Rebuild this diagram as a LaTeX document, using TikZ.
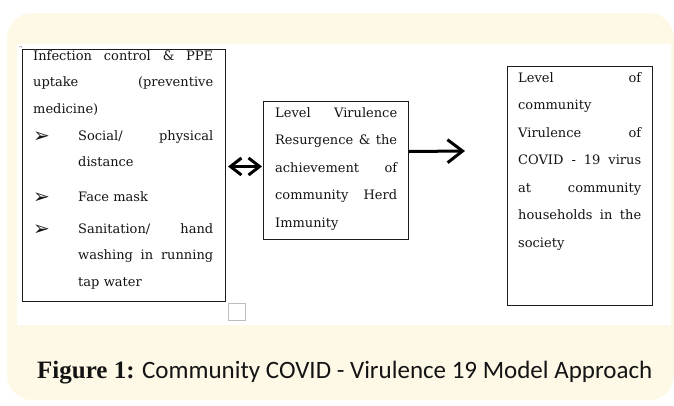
\documentclass[tikz,border=0pt]{standalone}
\usepackage{fontspec}
\setmainfont{DejaVu Serif}
\setsansfont{Carlito}
\newfontfamily\capfont{Liberation Serif}
\newfontfamily\bulletfont{DejaVu Sans}
\usepackage{xcolor}
\definecolor{panelbg}{HTML}{FEF9E7}
\definecolor{boxline}{HTML}{1C1C1C}
\definecolor{tickgray}{HTML}{BDBDBD}
\usepackage{tikz}
\usetikzlibrary{arrows.meta,positioning}
\newcommand{\bul}{\makebox[45pt][l]{\raisebox{-2pt}{\bulletfont\fontsize{20}{20}\selectfont ➢}}}
\newcommand{\ind}{\hspace*{45pt}}

\begin{document}
\begin{tikzpicture}[
  x=1pt, y=-1pt,
  box/.style={draw=boxline, line width=1pt, anchor=north west, inner sep=0pt},
  txt/.style={anchor=base west, inner sep=0pt, align=left, text=black!92},
  arr/.style={-{Straight Barb[length=15pt, width=23pt, line width=3pt]}, line width=3pt},
  dblarr/.style={{Straight Barb[length=11pt, width=17pt, line width=3pt]}-{Straight Barb[length=11pt, width=17pt, line width=3pt]}, line width=3pt}
]
\useasboundingbox (0,0) rectangle (674,405);
\fill[panelbg, rounded corners=25pt] (7,13) rectangle (674,400);
\fill[white] (17,44) rectangle (671,325);
\draw[tickgray, line width=0.6pt] (19,46) -- (21,46) -- (21,48);

\node[box, minimum width=203pt, minimum height=252pt] (infectbox) at (22,49) {};
\node[box, minimum width=145pt, minimum height=138pt] (herdbox) at (263,101) {};
\node[box, minimum width=145pt, minimum height=239pt] (levelbox) at (507,66) {};
\node[draw=tickgray, line width=0.8pt, minimum size=17pt, inner sep=0pt] (checkbox) at (236.5,312) {};

\node[txt, text width=180pt, font=\fontsize{13}{26.7}\selectfont] (infecttxt) at (33,60)
  {Infection\hfill control\hfill \&\hfill PPE\\
   uptake\hfill (preventive\\
   medicine)\\
   \bul Social/\hfill physical\\
   \ind distance\\[8pt]
   \bul Face mask\\[5pt]
   \bul Sanitation/\hfill hand\\
   \ind washing\hfill in\hfill running\\
   \ind tap water};
\node[txt, text width=122pt, font=\fontsize{13}{27.5}\selectfont] (herdtxt) at (275,117)
  {Level\hfill Virulence\\
   Resurgence\hfill \&\hfill the\\
   achievement\hfill of\\
   community\hfill Herd\\
   Immunity};
\node[txt, text width=123pt, font=\fontsize{13}{27.5}\selectfont] (leveltxt) at (518,82)
  {Level\hfill of\\
   community\\
   Virulence\hfill of\\
   COVID\hfill -\hfill 19\hfill virus\\
   at\hfill community\\
   households\hfill in\hfill the\\
   society};

\coordinate (arrend) at (465,151);
\draw[dblarr, shorten <=2pt, shorten >=1pt] ([yshift=4pt]herdbox.west -| infectbox.east) -- ([yshift=4pt]herdbox.west);
\draw[arr] ([yshift=19pt]herdbox.east) -- (arrend);

\node[anchor=base west, inner sep=0pt, font=\sffamily\fontsize{25}{25}\selectfont, text=black!92] (caption) at (37,378)
  {{\capfont\bfseries Figure 1:} Community COVID - Virulence 19 Model Approach};
\end{tikzpicture}
\end{document}
